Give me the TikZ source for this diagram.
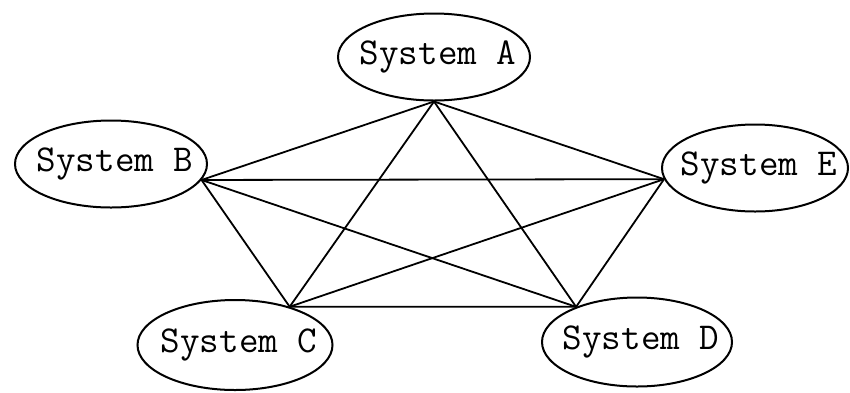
\documentclass[tikz,border=0pt]{standalone}
\usetikzlibrary{shapes.geometric}
\begin{document}
\begin{tikzpicture}[x=1pt,y=-1pt,
  sys/.style={draw, ellipse, line width=2pt, inner sep=0pt,
    minimum width=192pt, minimum height=87pt,
    label={[font=\ttfamily\fontsize{38}{42}\selectfont, xshift=4pt]center:#1}},
  link/.style={line width=1.8pt}]
\useasboundingbox (0,0) rectangle (850,392);
\node[sys=System A] (A) at (434,57) {};
\node[sys=System B] (B) at (111,164) {};
\node[sys=System E, minimum width=186pt] (E) at (755,168) {};
\node[sys=System C, minimum width=195pt, minimum height=90pt] (C) at (235,345) {};
\node[sys=System D, minimum width=190pt, minimum height=89pt] (D) at (637,342) {};
\coordinate (a) at (A.south);
\coordinate (b) at (B.-10);
\coordinate (e) at (E.187);
\coordinate (c) at (C.35);
\coordinate (d) at (D.150);
\draw[link] (a) -- (b);
\draw[link] (a) -- (e);
\draw[link] (a) -- (c);
\draw[link] (a) -- (d);
\draw[link] (b) -- (e);
\draw[link] (b) -- (c);
\draw[link] (b) -- (d);
\draw[link] (e) -- (c);
\draw[link] (e) -- (d);
\draw[link] (c) -- (d);
\end{tikzpicture}
\end{document}
